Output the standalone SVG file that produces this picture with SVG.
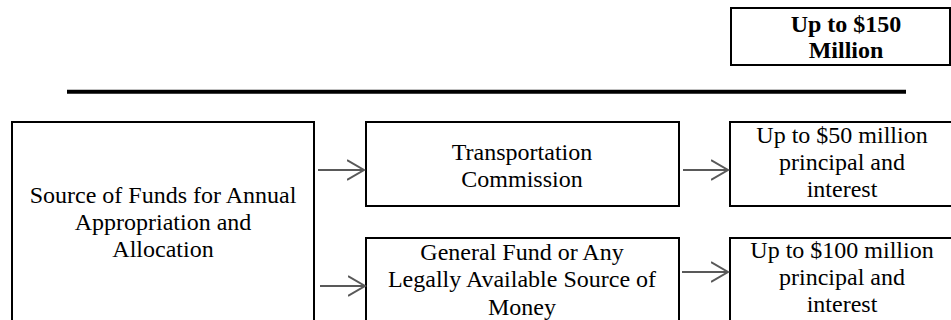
<svg xmlns="http://www.w3.org/2000/svg" width="951" height="320" viewBox="0 0 951 320">
<style>
.box{fill:#fff;stroke:#000;stroke-width:2}
.t{font-family:"Liberation Serif","Times New Roman",serif;font-size:24px;fill:#000;text-anchor:middle}
.b{font-weight:bold}
.c{fill:none;stroke:#595959;stroke-width:2}
</style>
<defs>
<marker id="ah" markerWidth="20" markerHeight="24" refX="17" refY="11" orient="auto" markerUnits="userSpaceOnUse">
<path d="M0,1 L17,11 L0,21" fill="none" stroke="#595959" stroke-width="2"/>
</marker>
</defs>
<rect width="951" height="320" fill="#fff"/>
<g id="total">
<rect class="box" x="731" y="8" width="219" height="57"/>
<text class="t b" x="846" y="32">Up to $150</text>
<text class="t b" x="846" y="58">Million</text>
</g>
<g id="rule">
<line x1="67" y1="91.7" x2="906" y2="91.7" stroke="#000" stroke-width="4"/>
</g>
<g id="source">
<rect class="box" x="12" y="122" width="302" height="220"/>
<text class="t" x="163" y="203">Source of Funds for Annual</text>
<text class="t" x="163" y="230">Appropriation and</text>
<text class="t" x="163" y="257">Allocation</text>
</g>
<g id="transport">
<rect class="box" x="366" y="122" width="313" height="84"/>
<text class="t" x="522" y="160">Transportation</text>
<text class="t" x="522" y="187">Commission</text>
</g>
<g id="general">
<rect class="box" x="366" y="238" width="313" height="100"/>
<text class="t" x="522" y="260">General Fund or Any</text>
<text class="t" x="522" y="287">Legally Available Source of</text>
<text class="t" x="522" y="315">Money</text>
</g>
<g id="up50">
<rect class="box" x="730" y="122" width="225" height="84"/>
<text class="t" x="842" y="143">Up to $50 million</text>
<text class="t" x="842" y="170">principal and</text>
<text class="t" x="842" y="197">interest</text>
</g>
<g id="up100">
<rect class="box" x="730" y="238" width="225" height="100"/>
<text class="t" x="842" y="258">Up to $100 million</text>
<text class="t" x="842" y="285">principal and</text>
<text class="t" x="842" y="312">interest</text>
</g>
<g id="connectors">
<line class="c" x1="318" y1="170" x2="364" y2="170" marker-end="url(#ah)"/>
<line class="c" x1="320" y1="286" x2="365" y2="286" marker-end="url(#ah)"/>
<line class="c" x1="683" y1="170" x2="728" y2="170" marker-end="url(#ah)"/>
<line class="c" x1="682" y1="272" x2="728" y2="272" marker-end="url(#ah)"/>
</g>
</svg>
